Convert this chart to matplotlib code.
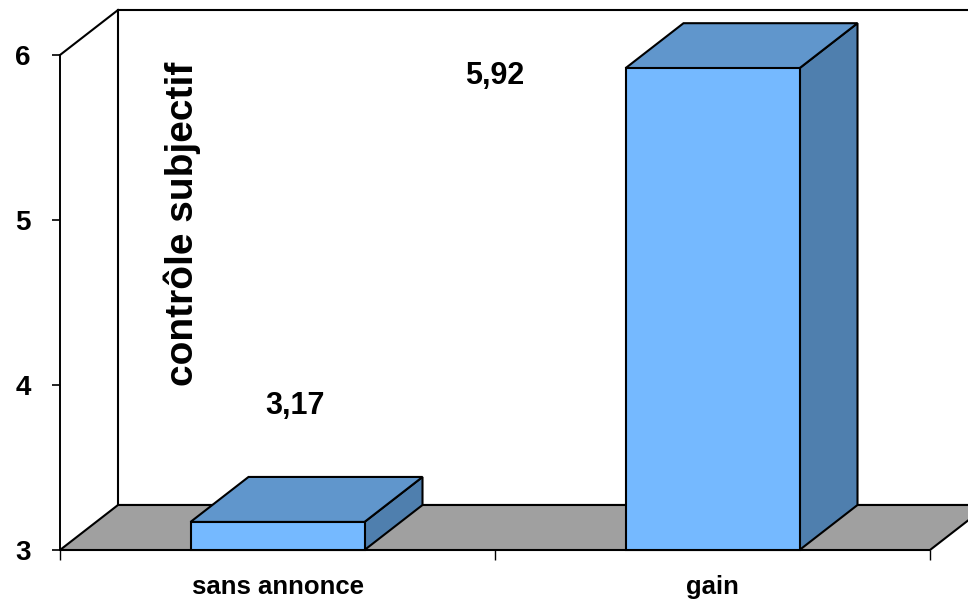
import matplotlib
matplotlib.use("Agg")
import matplotlib.pyplot as plt
import numpy as np
from matplotlib.patches import Polygon
from matplotlib.transforms import IdentityTransform

# Data
categories = ["sans annonce", "gain"]
values = [3.17, 5.92]
y_ticks = [3, 4, 5, 6]
y_label = "contrôle subjectif"

# Styling
FRONT = "#75b9ff"
TOP = "#6096cc"
SIDE = "#4f7fae"
FLOOR = "#a0a0a0"
DEPTH = (58, 45)          # depth offset in pixels (right, up)
BAR_WIDTH = 0.4
FONT = dict(family=["Liberation Sans", "DejaVu Sans"], fontweight="bold")

fig = plt.figure(figsize=(9.68, 6.03), dpi=100)
W, H = 968, 603
# axes = front plane of the 3D box
ax = fig.add_axes([60 / W, (H - 550) / H, 870 / W, 495 / H])
ax.set_zorder(10)
ax.set_xlim(0, len(categories))
ax.set_ylim(y_ticks[0], y_ticks[-1])
ax.patch.set_visible(False)
for s in ["top", "right", "bottom"]:
    ax.spines[s].set_visible(False)
ax.spines["left"].set_linewidth(1.4)

fig.canvas.draw()
ident = IdentityTransform()
dx, dy = DEPTH


def disp(x, y, back=False):
    px, py = ax.transData.transform((x, y))
    if back:
        px += dx
        py += dy
    return (px, py)


def poly(points, color, z):
    p = Polygon(points, closed=True, facecolor=color, edgecolor="black",
                linewidth=1.5, transform=ident, zorder=z, clip_on=False)
    fig.add_artist(p)


x0, x1 = 0, len(categories)
y0, y1 = y_ticks[0], y_ticks[-1]

# back wall (white) and its outline
poly([disp(x0, y0, True), disp(x0, y1, True), disp(x1 + 0.2, y1, True),
      disp(x1 + 0.2, y0, True)], "white", 1)
# left wall edge
fig.add_artist(plt.Line2D(*zip(disp(x0, y1), disp(x0, y1, True)),
                          color="black", lw=1.5, transform=ident, zorder=2))
# floor
poly([disp(x0, y0), disp(x1, y0), disp(x1, y0, True), disp(x0, y0, True)],
     FLOOR, 2)

# bars
for i, v in enumerate(values):
    xl = i + 0.5 - BAR_WIDTH / 2
    xr = i + 0.5 + BAR_WIDTH / 2
    poly([disp(xr, y0), disp(xr, y0, True), disp(xr, v, True), disp(xr, v)],
         SIDE, 3)
    poly([disp(xl, v), disp(xr, v), disp(xr, v, True), disp(xl, v, True)],
         TOP, 3)
    poly([disp(xl, y0), disp(xr, y0), disp(xr, v), disp(xl, v)], FRONT, 4)

# value labels
label_pos = [(0.54, 3.87), (1.0, 5.87)]
for (lx, ly), v in zip(label_pos, values):
    ax.text(lx, ly, f"{v:.2f}".replace(".", ","), ha="center", va="center",
            fontsize=22, **FONT)

# y ticks
ax.set_yticks(y_ticks)
ax.set_yticklabels([str(t) for t in y_ticks], fontsize=20, **FONT)
ax.tick_params(axis="y", length=6, width=1.2, pad=15)

# x ticks: boundaries as marks, categories as labels
ax.set_xticks(np.arange(len(categories) + 1))
ax.set_xticklabels([])
ax.tick_params(axis="x", which="major", length=7, width=1, direction="out")
ax.set_xticks(np.arange(len(categories)) + 0.5, minor=True)
ax.set_xticklabels(categories, minor=True, fontsize=18.5, **FONT)
ax.tick_params(axis="x", which="minor", length=0, pad=18)

# axis title placed inside the box
fig.text(182 / W, 1 - 224 / H, y_label, rotation=90, ha="center",
         va="center", fontsize=28, zorder=20, **FONT)

fig.savefig("out.png", dpi=100)
